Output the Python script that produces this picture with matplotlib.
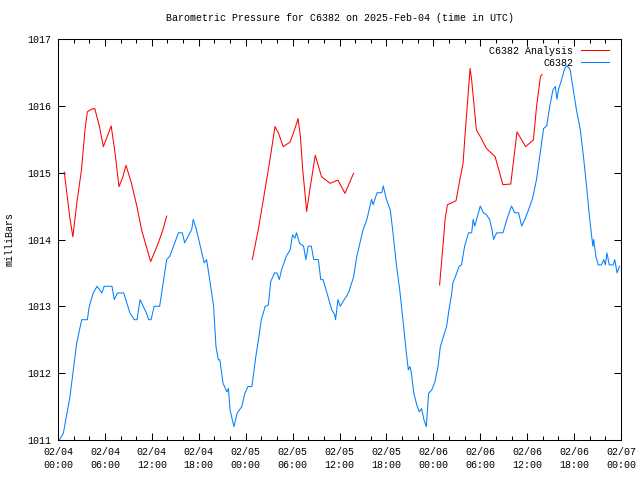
import matplotlib
matplotlib.use('Agg')
import matplotlib.pyplot as plt

# hours since 2025-02-04 00:00 UTC
station_hours = [0.17, 0.68, 1.53, 2.39, 3.03, 3.75, 4.0, 4.5, 5.0, 5.6, 5.9, 6.9, 7.2, 7.6, 8.4,
                 9.2, 9.75, 10.1, 10.5, 11.3, 11.6, 11.9, 12.3, 13.0, 13.9, 14.3, 15.4, 15.9, 16.2,
                 17.1, 17.3, 17.7, 18.2, 18.7, 19.0, 19.4, 19.9, 20.2, 20.5, 20.7, 21.1, 21.6, 21.8,
                 22.0, 22.5, 22.9, 23.5, 23.9, 24.3, 24.8, 25.3, 25.7, 26.0, 26.5, 26.9, 27.2, 27.7,
                 28.0, 28.3, 28.6, 29.2, 29.7, 30.0, 30.3, 30.5, 30.9, 31.4, 31.7, 32.0, 32.4, 32.7,
                 33.3, 33.6, 33.9, 34.4, 35.0, 35.4, 35.5, 35.8, 36.1, 36.6, 36.9, 37.2, 37.8, 38.2,
                 38.6, 39.0, 39.5, 40.1, 40.3, 40.8, 41.4, 41.6, 42.0, 42.5, 42.8, 43.3, 43.7, 44.2,
                 44.5, 44.8, 45.0, 45.2, 45.5, 45.9, 46.2, 46.5, 46.8, 47.1, 47.4, 47.8, 48.2, 48.6,
                 48.9, 49.3, 49.7, 50.0, 50.3, 50.5, 51.0, 51.3, 51.6, 52.0, 52.5, 52.9, 53.1, 53.3,
                 54.0, 54.4, 54.8, 55.2, 55.5, 55.7, 56.1, 56.9, 57.4, 58.0, 58.4, 58.9, 59.3, 59.7,
                 60.1, 60.7, 61.2, 61.6, 62.1, 62.5, 62.9, 63.3, 63.6, 63.8, 64.0, 64.4, 64.8, 65.1,
                 65.5, 65.9, 66.3, 66.8, 67.2, 67.6, 68.0, 68.4, 68.5, 68.8, 69.1, 69.5, 69.8, 70.0,
                 70.2, 70.5, 71.0, 71.2, 71.5, 71.8]
station_mb = [1011.0, 1011.1, 1011.65, 1012.45, 1012.8, 1012.8, 1013.0, 1013.2, 1013.3, 1013.2, 1013.3,
              1013.3, 1013.1, 1013.2, 1013.2, 1012.9, 1012.8, 1012.8, 1013.1, 1012.9, 1012.8, 1012.8,
              1013.0, 1013.0, 1013.7, 1013.75, 1014.1, 1014.1, 1013.95, 1014.15, 1014.3, 1014.15,
              1013.9, 1013.65, 1013.7, 1013.4, 1013.0, 1012.4, 1012.2, 1012.2, 1011.85, 1011.72,
              1011.77, 1011.45, 1011.2, 1011.4, 1011.5, 1011.7, 1011.8, 1011.8, 1012.25, 1012.55,
              1012.8, 1013.0, 1013.02, 1013.37, 1013.5, 1013.5, 1013.4, 1013.55, 1013.75, 1013.85,
              1014.07, 1014.02, 1014.1, 1013.94, 1013.9, 1013.7, 1013.9, 1013.9, 1013.7, 1013.7,
              1013.4, 1013.4, 1013.2, 1012.95, 1012.87, 1012.8, 1013.1, 1013.0, 1013.1, 1013.15,
              1013.22, 1013.44, 1013.74, 1013.94, 1014.14, 1014.3, 1014.6, 1014.52, 1014.7, 1014.7,
              1014.8, 1014.6, 1014.44, 1014.14, 1013.6, 1013.25, 1012.7, 1012.35, 1012.05, 1012.1,
              1012.0, 1011.7, 1011.52, 1011.42, 1011.47, 1011.3, 1011.2, 1011.7, 1011.75, 1011.87,
              1012.1, 1012.4, 1012.55, 1012.7, 1012.95, 1013.15, 1013.35, 1013.5, 1013.6, 1013.62,
              1013.9, 1014.1, 1014.1, 1014.3, 1014.2, 1014.5, 1014.4, 1014.37, 1014.3, 1014.15,
              1014.0, 1014.1, 1014.1, 1014.3, 1014.5, 1014.4, 1014.4, 1014.2, 1014.3, 1014.42,
              1014.62, 1014.9, 1015.24, 1015.66, 1015.7, 1016.0, 1016.24, 1016.29, 1016.1, 1016.24,
              1016.39, 1016.56, 1016.6, 1016.54, 1016.24, 1015.94, 1015.64, 1015.24, 1014.79, 1014.3,
              1013.9, 1014.0, 1013.74, 1013.62, 1013.62, 1013.7, 1013.62, 1013.8, 1013.62, 1013.62,
              1013.7, 1013.5, 1013.6]

# analysis runs, three separate pieces (None breaks the line)
analysis_hours = [0.8, 1.5, 1.9, 2.4, 3.0, 3.45, 3.75, 4.3, 4.7, 5.3, 5.8, 6.2, 6.8, 7.3, 7.8, 8.3,
                  8.7, 9.4, 10.1, 10.7, 11.85, 12.8, 13.4, 13.9, 14.0,
                  24.85, 25.6, 26.25, 27.1, 27.75, 28.2, 28.8, 29.7, 30.3, 30.7, 31.0, 31.3, 31.8,
                  32.2, 32.9, 33.7, 34.8, 35.8, 36.7, 37.8, 38.0,
                  48.8, 49.3, 49.5, 49.8, 50.9, 51.4, 51.8, 52.1, 52.7, 52.9, 53.5, 54.0, 54.8,
                  55.9, 56.9, 57.9, 58.7, 59.8, 60.8, 61.2, 61.7, 61.9]
analysis_mb = [1015.01, 1014.34, 1014.04, 1014.54, 1015.04, 1015.64, 1015.91, 1015.95, 1015.96,
               1015.69, 1015.39, 1015.51, 1015.7, 1015.29, 1014.79, 1014.94, 1015.11, 1014.84,
               1014.49, 1014.14, 1013.67, 1013.94, 1014.14, 1014.35, None,
               1013.7, 1014.14, 1014.59, 1015.19, 1015.69, 1015.59, 1015.39, 1015.46, 1015.66,
               1015.81, 1015.54, 1015.04, 1014.42, 1014.74, 1015.26, 1014.94, 1014.84, 1014.89,
               1014.69, 1014.99, None,
               1013.32, 1014.0, 1014.3, 1014.52, 1014.58, 1014.9, 1015.14, 1015.64, 1016.56,
               1016.39, 1015.64, 1015.54, 1015.36, 1015.24, 1014.82, 1014.83, 1015.61, 1015.39,
               1015.49, 1015.99, 1016.44, 1016.47]

tick_hours = [0, 6, 12, 18, 24, 30, 36, 42, 48, 54, 60, 66, 72]
tick_labels = ['02/04\n00:00', '02/04\n06:00', '02/04\n12:00', '02/04\n18:00',
               '02/05\n00:00', '02/05\n06:00', '02/05\n12:00', '02/05\n18:00',
               '02/06\n00:00', '02/06\n06:00', '02/06\n12:00', '02/06\n18:00',
               '02/07\n00:00']

plt.rcParams['font.family'] = ['Liberation Mono', 'DejaVu Sans Mono']
plt.rcParams['font.size'] = 7.2

fig = plt.figure(figsize=(6.4, 4.8), dpi=100)
ax = fig.add_axes([58 / 640, 40 / 480, 563 / 640, 401 / 480])

ax.plot(analysis_hours, [float('nan') if v is None else v for v in analysis_mb],
        color='#ff0000', linewidth=0.75, label='C6382 Analysis')
ax.plot(station_hours, station_mb, color='#0080ff', linewidth=0.75, label='C6382')

ax.set_xlim(0, 72)
ax.set_ylim(1011, 1017)
ax.set_xticks(tick_hours)
ax.set_xticklabels(tick_labels)
for lbl in ax.get_xticklabels():
    lbl.set_linespacing(1.35)
ax.set_xticks(range(0, 73, 2), minor=True)
ax.set_yticks([1011, 1012, 1013, 1014, 1015, 1016, 1017])
ax.tick_params(direction='in', top=True, right=True, length=5, width=0.75, pad=5,
               labelsize=7.2)
ax.tick_params(which='minor', direction='in', top=True, length=3, width=0.75)
for s in ax.spines.values():
    s.set_linewidth(0.75)

ax.set_ylabel('milliBars')
ax.yaxis.set_label_coords(-48 / 563, 0.5)
ax.yaxis.label.set_verticalalignment('center')
ax.set_title('Barometric Pressure for C6382 on 2025-Feb-04 (time in UTC)', fontsize=7.2, pad=13)

ax.legend(loc='upper right', bbox_to_anchor=(1 - 5 / 563, 1), frameon=False,
          markerfirst=False, handlelength=2.8, labelspacing=0.2, borderaxespad=0.3,
          handletextpad=0.8, fontsize=7.2)

fig.savefig('out.png', dpi=100)
